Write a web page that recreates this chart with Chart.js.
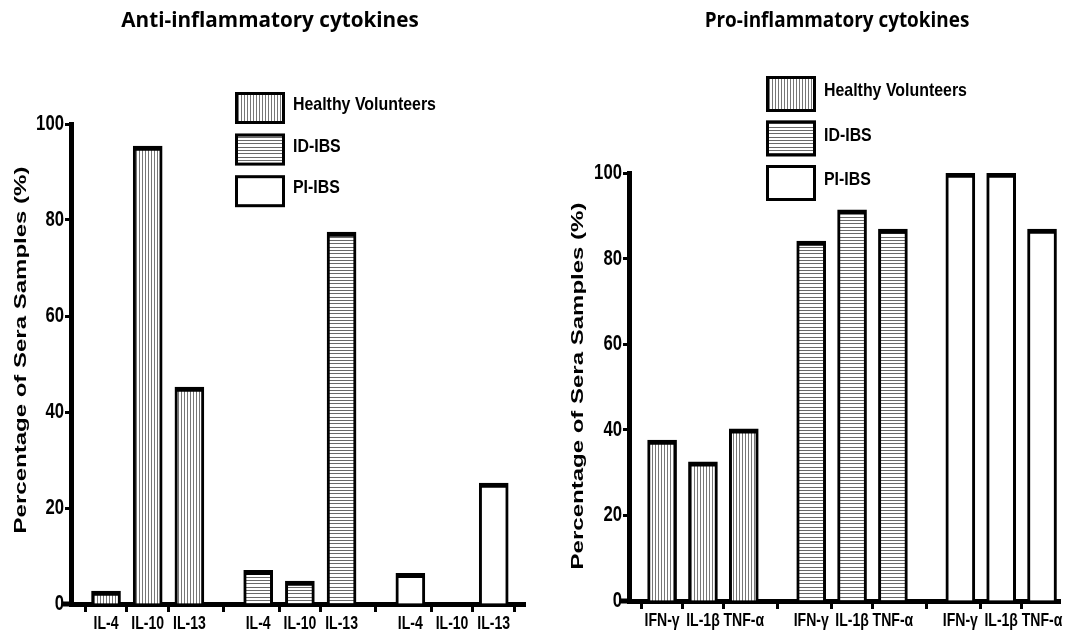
<!DOCTYPE html>
<html>
<head>
<meta charset="utf-8">
<script src="https://cdn.jsdelivr.net/npm/chart.js@4.4.1/dist/chart.umd.min.js"></script>
<style>
  html, body { margin: 0; padding: 0; background: #fff; }
  #wrap { position: relative; width: 1068px; height: 634px; overflow: hidden; }
  canvas { position: absolute; top: 0; }
</style>
</head>
<body>
<div id="wrap">
  <canvas id="anti" width="534" height="634" style="left:0"></canvas>
  <canvas id="pro" width="534" height="634" style="left:534px"></canvas>
</div>
<script>
// ---- data ----
const cohorts = ['Healthy Volunteers', 'ID-IBS', 'PI-IBS'];

const antiCytokines = ['IL-4', 'IL-10', 'IL-13'];
const antiHealthy = [2.7, 95.4, 45.2];
const antiIdIbs   = [7.0, 4.8, 77.5];
const antiPiIbs   = [6.4, 0, 25.2];

const proCytokines = ['IFN-\u03b3', 'IL-1\u03b2', 'TNF-\u03b1'];
const proHealthy = [37.6, 32.5, 40.2];
const proIdIbs   = [84.1, 91.4, 86.9];
const proPiIbs   = [100, 100, 86.9];

const yTickValues = [0, 20, 40, 60, 80, 100];

// ---- fill patterns ----
function hatch(vertical) {
  const c = document.createElement('canvas');
  const g = c.getContext('2d');
  if (vertical) {
    c.width = 3; c.height = 3;
    g.fillStyle = '#fff'; g.fillRect(0, 0, 3, 3);
    g.fillStyle = '#777'; g.fillRect(1, 0, 1, 3);
  } else {
    c.width = 3; c.height = 10;
    g.fillStyle = '#fff'; g.fillRect(0, 0, 3, 10);
    g.fillStyle = '#6a6a6a';
    [0, 3, 7].forEach(y => g.fillRect(0, y, 3, 1));
  }
  return g.createPattern(c, 'repeat');
}
const fills = [hatch(true), hatch(false), '#ffffff'];

// ---- helpers ----
const GROUP_STEP = 3.65;   // distance between cohort groups, in bar slots
const SANS = '"Liberation Sans", Arial, sans-serif';

function squashText(ctx, text, x, y, font, sx, align, baseline) {
  ctx.save();
  ctx.translate(x, y);
  ctx.scale(sx, 1);
  ctx.font = font;
  ctx.fillStyle = '#000';
  ctx.textAlign = align;
  ctx.textBaseline = baseline;
  ctx.fillText(text, 0, 0);
  ctx.restore();
}

// Titles, legend, axis title and tick labels (condensed type)
const panelDecor = {
  id: 'panelDecor',
  afterDraw(chart, args, o) {
    const ctx = chart.ctx;
    const xs = chart.scales.x;
    const ys = chart.scales.y;

    // short lead-in of the x axis to the left of the y axis
    ctx.save();
    ctx.fillStyle = '#000';
    ctx.fillRect(xs.left - 8, xs.top - 2.5, 8, 5);
    ctx.restore();

    // chart title
    squashText(ctx, o.title, o.titleX, o.titleY, 'bold 22px "Open Sans"', o.titleScale, 'center', 'middle');

    // y axis title (rotated, condensed)
    ctx.save();
    ctx.translate(o.yTitleX, o.yTitleY);
    ctx.scale(0.72, 1);
    ctx.rotate(-Math.PI / 2);
    ctx.font = 'bold 24px ' + SANS;
    ctx.fillStyle = '#000';
    ctx.textAlign = 'center';
    ctx.textBaseline = 'middle';
    ctx.fillText('Percentage of Sera Samples (%)', 0, 0);
    ctx.restore();

    // y tick labels
    const ytl = ys.options.grid.tickLength;
    ys.ticks.forEach(t => {
      squashText(ctx, t.label, ys.right - ytl - 1, ys.getPixelForValue(t.value),
        'bold 22px ' + SANS, 0.76, 'right', 'middle');
    });

    // x tick labels
    const xtl = xs.options.grid.tickLength;
    xs.ticks.forEach(t => {
      squashText(ctx, t.label, xs.getPixelForValue(t.value), xs.top + xtl + 3,
        'bold 18px ' + SANS, 0.78, 'center', 'top');
    });

    // legend
    const L = o.legend;
    chart.data.datasets.forEach((ds, k) => {
      const top = L.top + k * L.step;
      ctx.save();
      ctx.fillStyle = ds.backgroundColor;
      ctx.fillRect(L.x, top, L.w, L.h);
      ctx.lineWidth = 3;
      ctx.strokeStyle = '#000';
      ctx.strokeRect(L.x + 1.5, top + 1.5, L.w - 3, L.h - 3);
      ctx.restore();
      squashText(ctx, ds.label, L.x + L.w + 8, top + L.h / 2 - 3,
        'bold 18.5px ' + SANS, 0.86, 'left', 'middle');
    });
  }
};

function buildChart(id, cytokines, series, cfg) {
  const positions = [];
  const labels = [];
  series.forEach((vals, g) => vals.forEach((v, i) => {
    positions.push(g * GROUP_STEP + i);
    labels.push(cytokines[i]);
  }));

  const datasets = series.map((vals, g) => ({
    label: cohorts[g],
    data: vals.map((v, i) => ({ x: g * GROUP_STEP + i, y: v })),
    backgroundColor: fills[g],
    borderColor: '#000',
    borderWidth: { top: 5, left: 3, right: 3, bottom: 0 },
    grouped: false,
    maxBarThickness: 29,
    barPercentage: 1,
    categoryPercentage: 1
  }));

  const axisGrid = (len) => ({
    display: true, drawOnChartArea: false, drawTicks: true,
    tickLength: len, tickWidth: 3, tickColor: '#000', color: '#000'
  });

  return new Chart(document.getElementById(id), {
    type: 'bar',
    data: { datasets },
    options: {
      responsive: false,
      animation: false,
      events: [],
      layout: { padding: { left: 0, top: cfg.top, right: cfg.right, bottom: 0 } },
      plugins: {
        legend: { display: false },
        tooltip: { enabled: false },
        title: { display: false },
        panelDecor: cfg.decor
      },
      scales: {
        x: {
          type: 'linear',
          min: cfg.xMin, max: cfg.xMax,
          offset: false,
          grid: axisGrid(8),
          border: { display: true, width: 5, color: '#000' },
          ticks: { display: false, autoSkip: false, callback: (v, i) => labels[i] },
          afterBuildTicks: (axis) => { axis.ticks = positions.map(p => ({ value: p })); },
          afterFit: (axis) => { axis.height = cfg.xHeight; }
        },
        y: {
          type: 'linear',
          min: 0, max: 100,
          grid: axisGrid(6),
          border: { display: true, width: 5, color: '#000' },
          ticks: { display: false, stepSize: 20 },
          afterBuildTicks: (axis) => { axis.ticks = yTickValues.map(v => ({ value: v })); },
          afterFit: (axis) => { axis.width = cfg.yWidth; }
        }
      }
    },
    plugins: [panelDecor]
  });
}

buildChart('anti', antiCytokines, [antiHealthy, antiIdIbs, antiPiIbs], {
  top: 124, right: 9, xHeight: 30, yWidth: 71,
  xMin: -0.84, xMax: 10.05,
  decor: {
    title: 'Anti-inflammatory cytokines', titleX: 270, titleY: 21, titleScale: 0.94,
    yTitleX: 21, yTitleY: 350,
    legend: { x: 235, top: 92, step: 41.6, w: 50, h: 32 }
  }
});

buildChart('pro', proCytokines, [proHealthy, proIdIbs, proPiIbs], {
  top: 173, right: 8, xHeight: 33, yWidth: 95,
  xMin: -0.81, xMax: 9.74,
  decor: {
    title: 'Pro-inflammatory cytokines', titleX: 303, titleY: 21, titleScale: 0.86,
    yTitleX: 44, yTitleY: 386,
    legend: { x: 232, top: 76, step: 44.5, w: 50, h: 36 }
  }
});
</script>
</body>
</html>
